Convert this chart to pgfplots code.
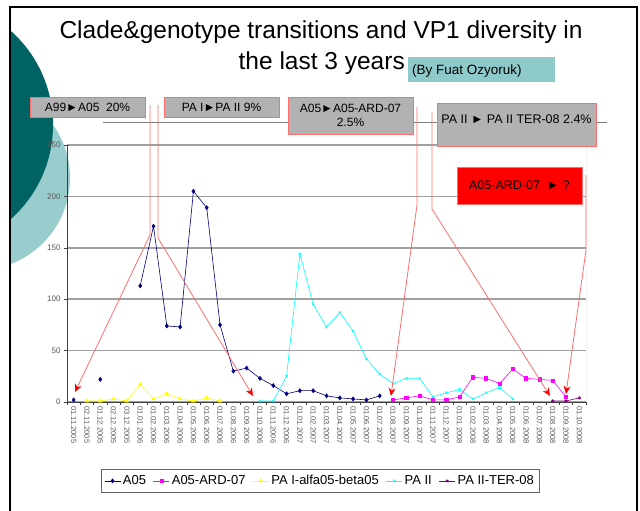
\documentclass[border=0pt]{standalone}
\usepackage{fontspec}
\setmainfont{Liberation Sans}
\usepackage{pgfplots}
\pgfplotsset{compat=1.18}
\usetikzlibrary{arrows.meta}
\definecolor{tealdark}{RGB}{0,98,98}
\definecolor{teallight}{RGB}{153,204,204}
\definecolor{tealbox}{RGB}{143,202,202}
\definecolor{boxgray}{RGB}{178,178,178}
\definecolor{linered}{RGB}{255,110,110}
\definecolor{gridgray}{RGB}{160,160,160}
\definecolor{cNavy}{RGB}{0,0,128}
\definecolor{cMag}{RGB}{255,0,255}
\definecolor{cYel}{RGB}{255,255,0}
\definecolor{cCyan}{RGB}{0,255,255}
\definecolor{cPur}{RGB}{128,0,128}
\definecolor{cRed}{RGB}{255,0,0}
\begin{document}
\begin{tikzpicture}[x=1pt,y=1pt]
\useasboundingbox (0,0) rectangle (640,-511);
\fill[white] (0,0) rectangle (640,-511);
\begin{scope}
\clip (10,-7) rectangle (637,-520);
\fill[teallight] (-22,-178) circle (92);
\fill[tealdark] (-73,-125) circle (126);
\end{scope}
\draw[black, line width=1.6pt] (10,-515) -- (10,-7) -- (637,-7) -- (637,-515);
% title
\node[anchor=base, font=\fontsize{24.5}{28}\selectfont] at (321,-39) {Clade\&genotype transitions and VP1 diversity in};
\node[anchor=base east, font=\fontsize{24.5}{28}\selectfont, inner sep=0pt] at (405,-70) {the last 3 years};
\fill[tealbox] (408,-57) rectangle (555,-82);
\node[anchor=west, font=\fontsize{13.5}{15}\selectfont, inner sep=0pt] at (412,-71) {(By Fuat Ozyoruk)};
\begin{axis}[
  at={(67pt,-402pt)}, anchor=south west,
  scale only axis, width=519pt, height=257pt,
  xmin=-0.5, xmax=38.5, ymin=0, ymax=250,
  axis lines*=left,
  axis line style={black!75, line width=0.6pt},
  ytick={0,50,...,250},
  xtick={0,...,38},
  xticklabels={01.11.2005,02.11.2005,01.12.2005,02.12.2005,03.12.2005,01.01.2006,01.02.2006,01.03.2006,01.04.2006,01.05.2006,01.06.2006,01.07.2006,01.08.2006,01.09.2006,01.10.2006,01.11.2006,01.12.2006,01.01.2007,01.02.2007,01.03.2007,01.04.2007,01.05.2007,01.06.2007,01.07.2007,01.08.2007,01.09.2007,01.10.2007,01.11.2007,01.12.2007,01.01.2008,01.02.2008,01.03.2008,01.04.2008,01.05.2008,01.06.2008,01.07.2008,01.08.2008,01.09.2008,01.10.2008},
  minor xtick={-0.5,0.5,...,38.5},
  major x tick style={draw=none},
  minor tick length=3pt,
  major tick length=3pt,
  tick align=outside,
  tick style={black!75, line width=0.5pt},
  x tick label style={rotate=-90, anchor=west, font=\fontsize{7.5}{8}\selectfont, text=black!65, inner sep=1pt},
  y tick label style={font=\fontsize{8}{9}\selectfont, text=black!65},
  /pgf/number format/assume math mode=true,
  ymajorgrids,
  grid style={gridgray, line width=1.5pt},
  unbounded coords=jump,
  legend style={at={(0.4875,-0.307)}, anchor=center, legend columns=5,
    draw=black!60, line width=0.6pt, font=\fontsize{13}{15}\selectfont,
    /tikz/every even column/.append style={column sep=5pt},
    inner xsep=3pt, inner ysep=4pt},
  legend image code/.code={\draw[#1, line width=0.8pt] (0pt,0pt) -- (16pt,0pt); \draw[#1, mark repeat=1] plot coordinates {(8pt,0pt)};},
]
\addplot[color=cNavy, line width=0.6pt, mark=diamond*, mark size=2pt] coordinates {
(0,2) (1,nan) (2,22) (3,nan) (4,nan) (5,113) (6,171) (7,74) (8,73) (9,205) (10,189) (11,75) (12,30) (13,33) (14,23) (15,16) (16,8) (17,11) (18,11) (19,6) (20,4) (21,3) (22,2) (23,6)};
\addlegendentry{A05}
\addplot[color=cMag, line width=0.6pt, mark=square*, mark size=1.6pt] coordinates {
(24,2) (25,4) (26,6) (27,2) (28,2) (29,5) (30,24) (31,23) (32,18) (33,32) (34,23) (35,22) (36,21) (37,5)};
\addlegendentry{A05-ARD-07}
\addplot[color=cYel, line width=0.6pt, mark=triangle*, mark size=2pt] coordinates {
(1,1) (2,1) (3,3) (4,1) (5,17) (6,3) (7,8) (8,3) (9,1) (10,4) (11,1)};
\addlegendentry{PA I-alfa05-beta05}
\addplot[color=cCyan, line width=0.6pt, mark=x, mark size=1.8pt] coordinates {
(14,1) (15,1) (16,25) (17,144) (18,95) (19,73) (20,87) (21,69) (22,42) (23,27) (24,18) (25,23) (26,23) (27,5) (28,9) (29,12) (30,3) (31,9) (32,14) (33,3)};
\addlegendentry{PA II}
\addplot[color=cPur, line width=0.6pt, mark=asterisk, mark size=1.8pt] coordinates {
(36,1) (37,1) (38,4)};
\addlegendentry{PA II-TER-08}
\draw[gridgray, line width=0.8pt] (rel axis cs:1,0) -- (rel axis cs:1,1);
\end{axis}
% gray connector line
\draw[black!50, line width=0.8pt] (103,-122) -- (607,-122);
% red connectors
\tikzset{redarr/.style={linered, line width=0.8pt, -{Stealth[cRed, fill=cRed, length=8pt, width=7pt]}}}
\draw[redarr] (150,-105) -- (150,-235) -- (75,-392);
\draw[redarr] (158,-105) -- (158,-238) -- (253,-396);
\draw[redarr] (417,-107) -- (417,-205) -- (391,-396);
\draw[redarr] (432,-112) -- (432,-209) -- (550,-396);
\draw[redarr] (586,-175) -- (586,-250) -- (566,-394);
% boxes
\tikzset{gbox/.style={draw=linered, fill=boxgray, line width=0.8pt}}
\draw[gbox] (30,-97) rectangle (145,-117);
\node[font=\fontsize{12}{14}\selectfont] at (87.5,-107) {A99►A05\ \ 20\%};
\draw[gbox] (164,-97) rectangle (279,-117);
\node[font=\fontsize{12}{14}\selectfont] at (221.5,-107) {PA I►PA II 9\%};
\draw[gbox] (288,-97) rectangle (413,-134);
\node[font=\fontsize{12}{14}\selectfont, align=center] at (350.5,-115.5) {A05►A05-ARD-07\\2.5\%};
\draw[gbox] (437,-103) rectangle (596,-146);
\node[font=\fontsize{12.5}{14}\selectfont] at (516.5,-119) {PA II ► PA II TER-08 2.4\%};
\draw[draw=linered, fill=cRed, line width=0.8pt] (457,-167) rectangle (582,-204);
\node[font=\fontsize{12.5}{14}\selectfont] at (519.5,-185.5) {A05-ARD-07 \ ► ?};
\end{tikzpicture}
\end{document}
